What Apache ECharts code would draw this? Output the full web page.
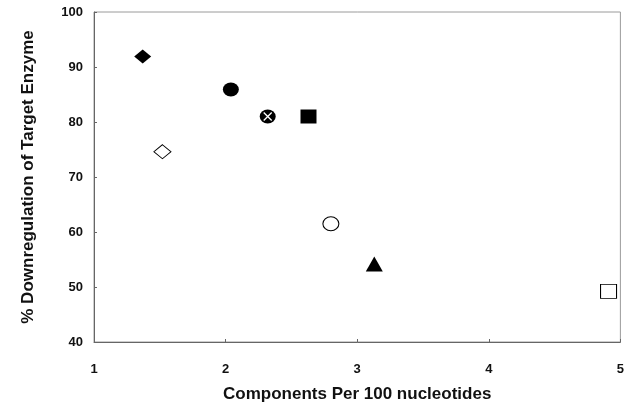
<!DOCTYPE html>
<html>
<head>
<meta charset="utf-8">
<script src="https://cdn.jsdelivr.net/npm/echarts@6/dist/echarts.min.js"></script>
<style>
  html, body { margin: 0; padding: 0; background: #fff; }
  #chart { width: 627px; height: 408px; }
</style>
</head>
<body>
<div id="chart"></div>
<script>
  // one point per marker style
  var filledDiamond = [[1.37, 91.9]];
  var openDiamond = [[1.52, 74.6]];
  var filledCircle = [[2.04, 85.9]];
  var crossCircle = [[2.32, 81.0]];
  var filledSquare = [[2.63, 81.0]];
  var openCircle = [[2.80, 61.5]];
  var filledTriangle = [[3.13, 54.2]];
  var openSquare = [[4.91, 49.2]];

  var xTitle = 'Components Per 100 nucleotides';
  var yTitle = '% Downregulation of Target Enzyme';

  var font = 'Liberation Sans, Arial, sans-serif';

  function pt(name, data, symbol, size, filled) {
    return {
      name: name,
      type: 'scatter',
      data: data,
      symbol: symbol,
      symbolSize: size,
      itemStyle: {
        color: filled ? '#000' : '#fff',
        borderColor: '#000',
        borderWidth: filled ? 0 : 1,
        opacity: 1
      },
      silent: true
    }
  }

  var chart = echarts.init(document.getElementById('chart'));
  chart.setOption({
    backgroundColor: '#ffffff',
    animation: false,
    grid: {
      left: 94,
      right: 5,
      top: 12,
      bottom: 61,
      show: true,
      borderColor: '#9a9a9a',
      borderWidth: 1
    },
    xAxis: {
      type: 'value',
      min: 1,
      max: 5,
      interval: 1,
      name: xTitle,
      nameLocation: 'middle',
      nameGap: 44,
      nameTextStyle: { fontFamily: font, fontWeight: 'bold', fontSize: 17, color: '#111' },
      axisLine: { lineStyle: { color: '#666', width: 1 } },
      axisTick: { inside: true, length: 3, lineStyle: { color: '#666' } },
      axisLabel: { margin: 21, fontFamily: font, fontWeight: 'bold', fontSize: 13, color: '#111' },
      splitLine: { show: false }
    },
    yAxis: {
      type: 'value',
      min: 40,
      max: 100,
      interval: 10,
      name: yTitle,
      nameLocation: 'middle',
      nameGap: 57,
      nameTextStyle: { fontFamily: font, fontWeight: 'bold', fontSize: 17, color: '#111' },
      axisLine: { show: true, lineStyle: { color: '#666', width: 1 } },
      axisTick: { inside: true, length: 3, lineStyle: { color: '#666' } },
      axisLabel: { margin: 11, fontFamily: font, fontWeight: 'bold', fontSize: 13, color: '#111' },
      splitLine: { show: false }
    },
    series: [
      pt('filled diamond', filledDiamond, 'diamond', [17, 14], true),
      pt('open diamond', openDiamond, 'diamond', [17, 14], false),
      pt('filled circle', filledCircle, 'circle', [16, 14], true),
      pt('cross circle', crossCircle, 'circle', [16, 14], true),
      {
        name: 'cross',
        type: 'scatter',
        data: crossCircle,
        symbol: 'path://M0,0L10,10M10,0L0,10',
        symbolSize: 8,
        itemStyle: { color: 'none', borderColor: '#fff', borderWidth: 1.3, opacity: 1 },
        silent: true,
        z: 3
      },
      pt('filled square', filledSquare, 'rect', [16, 14], true),
      pt('open circle', openCircle, 'circle', [16, 14], false),
      pt('filled triangle', filledTriangle, 'triangle', [17, 15], true),
      pt('open square', openSquare, 'rect', [16, 14], false)
    ]
  });
</script>
</body>
</html>
